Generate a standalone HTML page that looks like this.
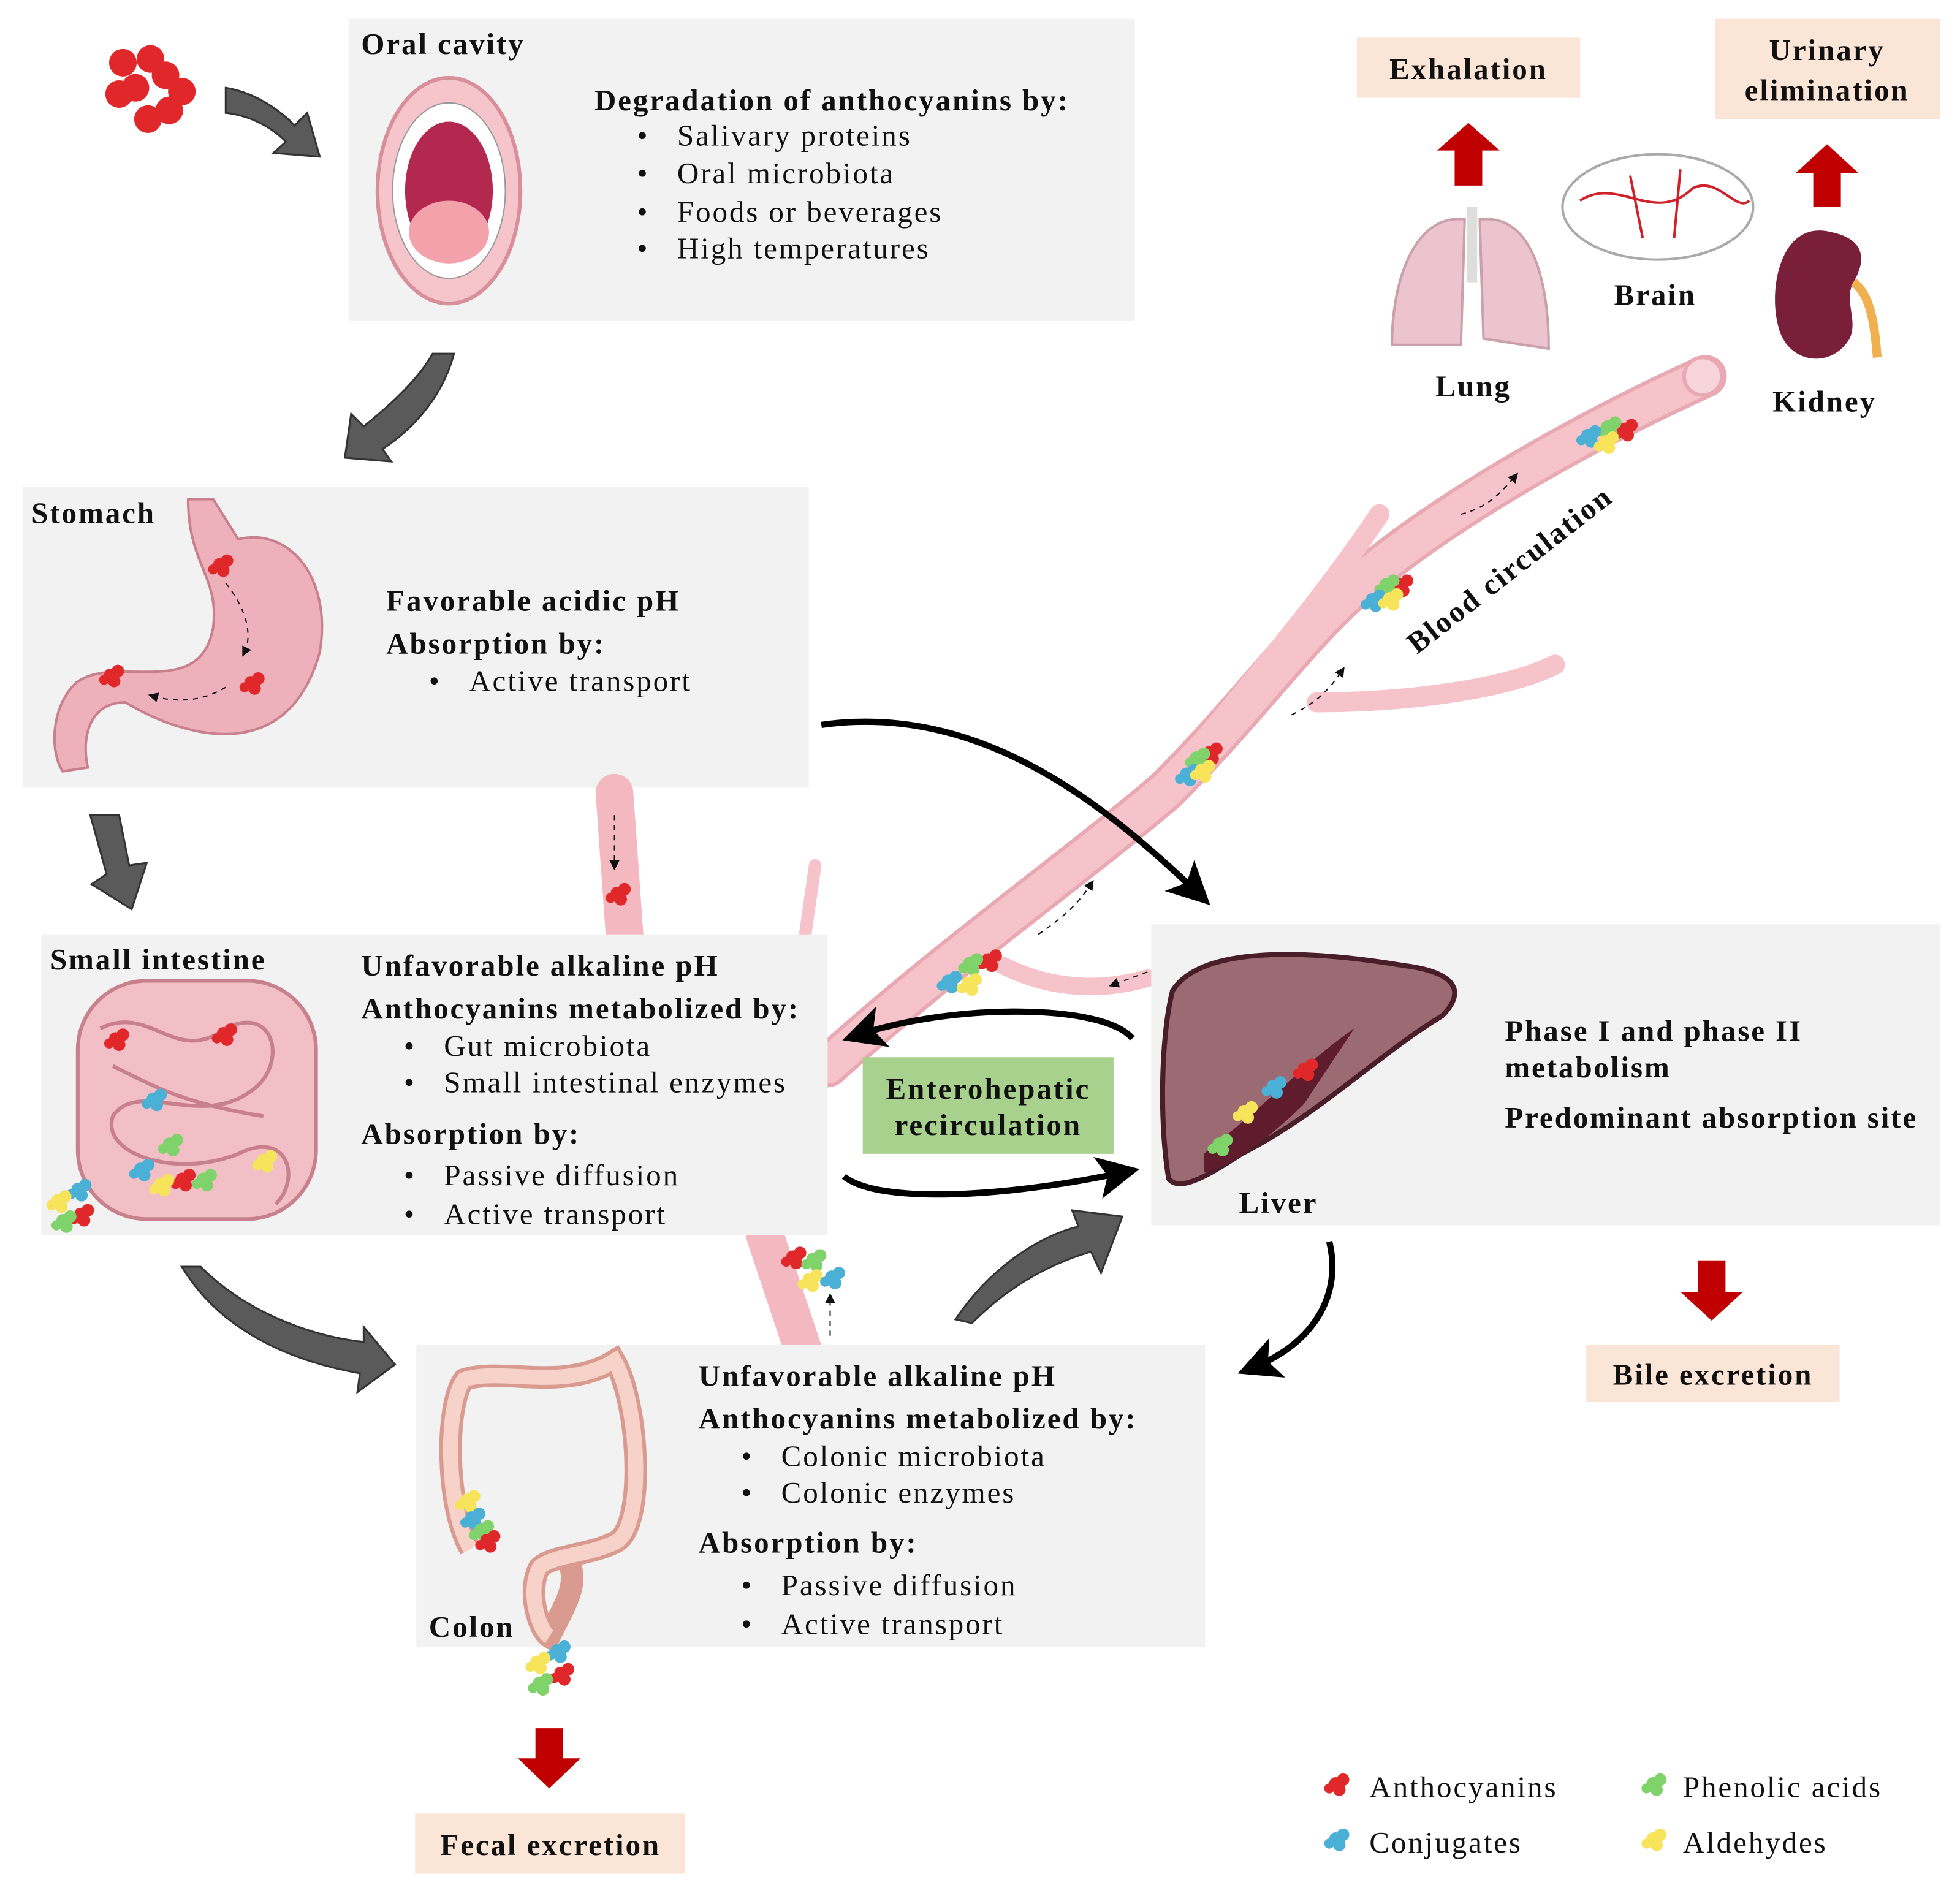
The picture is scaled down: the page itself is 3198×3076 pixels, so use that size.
<!DOCTYPE html>
<html><head><meta charset="utf-8"><style>
html,body{margin:0;padding:0;background:#fff}
svg{display:block}
text{font-family:"Liberation Serif",serif;fill:#111;font-size:24px;letter-spacing:1.4px}
.b{font-weight:bold}
</style></head><body>
<svg width="3198" height="3076" viewBox="0 0 1563 1503" preserveAspectRatio="none" xmlns="http://www.w3.org/2000/svg">
<defs>
<marker id="ah" markerWidth="8" markerHeight="8" refX="4" refY="4" orient="auto" markerUnits="userSpaceOnUse"><path d="M0,0 L8,4 L0,8z" fill="#111"/></marker>
<marker id="big" markerWidth="34" markerHeight="34" refX="20" refY="17" orient="auto" markerUnits="userSpaceOnUse"><path d="M0,0 L34,17 L0,34 L8,17z" fill="#000"/></marker>
<g id="cl"><circle r="5"/><circle cx="6" cy="-3" r="5"/><circle cx="3" cy="5" r="5"/><circle cx="-5" cy="4" r="4"/></g>
</defs>

<rect x="278" y="15" width="627" height="241" fill="#f2f2f2"/>
<rect x="18" y="388" width="627" height="240" fill="#f2f2f2"/>
<g fill="none" stroke-linecap="round">
<path d="M490,632 L498,745" stroke="#f4b8c1" stroke-width="30"/>
<path d="M640,1075 L610,985" stroke="#f4b8c1" stroke-width="30"/>
<path d="M660,850 C760,760 860,690 930,630 C1000,560 1040,500 1090,460 C1150,410 1250,350 1360,300" stroke="#e9a9b3" stroke-width="34"/>
<path d="M660,850 C760,760 860,690 930,630 C1000,560 1040,500 1090,460 C1150,410 1250,350 1360,300" stroke="#f6c3cb" stroke-width="28"/>
<path d="M960,590 C1010,530 1060,470 1100,410" stroke="#f6c3cb" stroke-width="16"/>
<path d="M1050,560 C1120,560 1200,550 1240,530" stroke="#f6c3cb" stroke-width="16"/>
<path d="M800,770 C840,790 880,790 915,780" stroke="#f6c3cb" stroke-width="14"/>
<path d="M650,690 L640,760" stroke="#f6c3cb" stroke-width="10"/>
</g>
<circle cx="1358" cy="300" r="15" fill="#f8d5da" stroke="#e9a9b3" stroke-width="3"/>
<rect x="33" y="745" width="627" height="240" fill="#f2f2f2"/>
<rect x="332" y="1072" width="629" height="241" fill="#f2f2f2"/>
<rect x="918" y="737" width="629" height="240" fill="#f2f2f2"/>

<rect x="1082" y="30" width="178" height="48" fill="#fbe5d6"/>
<rect x="1368" y="15" width="179" height="80" fill="#fbe5d6"/>
<rect x="1265" y="1072" width="202" height="46" fill="#fbe5d6"/>
<rect x="331" y="1446" width="215" height="48" fill="#fbe5d6"/>
<rect x="688" y="843" width="200" height="77" fill="#a9d18e"/>

<text x="288" y="43" class="b">Oral cavity</text>
<text x="474" y="88" class="b">Degradation of anthocyanins by:</text>
<g><text x="508" y="116">•&#160;&#160;&#160;Salivary proteins</text><text x="508" y="146">•&#160;&#160;&#160;Oral microbiota</text><text x="508" y="177">•&#160;&#160;&#160;Foods or beverages</text><text x="508" y="206">•&#160;&#160;&#160;High temperatures</text></g>
<text x="25" y="417" class="b">Stomach</text>
<text x="308" y="487" class="b">Favorable acidic pH</text>
<text x="308" y="521" class="b">Absorption by:</text>
<text x="342" y="551">•&#160;&#160;&#160;Active transport</text>
<text x="40" y="773" class="b">Small intestine</text>
<text x="288" y="778" class="b">Unfavorable alkaline pH</text>
<text x="288" y="812" class="b">Anthocyanins metabolized by:</text>
<g><text x="322" y="842">•&#160;&#160;&#160;Gut microbiota</text><text x="322" y="871">•&#160;&#160;&#160;Small intestinal enzymes</text></g>
<text x="288" y="912" class="b">Absorption by:</text>
<g><text x="322" y="945">•&#160;&#160;&#160;Passive diffusion</text><text x="322" y="976">•&#160;&#160;&#160;Active transport</text></g>
<text x="557" y="1105" class="b">Unfavorable alkaline pH</text>
<text x="557" y="1139" class="b">Anthocyanins metabolized by:</text>
<g><text x="591" y="1169">•&#160;&#160;&#160;Colonic microbiota</text><text x="591" y="1198">•&#160;&#160;&#160;Colonic enzymes</text></g>
<text x="557" y="1238" class="b">Absorption by:</text>
<g><text x="591" y="1272">•&#160;&#160;&#160;Passive diffusion</text><text x="591" y="1303">•&#160;&#160;&#160;Active transport</text></g>
<text x="342" y="1305" class="b">Colon</text>
<text x="1200" y="830" class="b">Phase I and phase II</text>
<text x="1200" y="859" class="b">metabolism</text>
<text x="1200" y="899" class="b">Predominant absorption site</text>
<text x="988" y="967" class="b">Liver</text>
<text x="1171" y="63" class="b" text-anchor="middle">Exhalation</text>
<text x="1457" y="48" class="b" text-anchor="middle">Urinary</text>
<text x="1457" y="80" class="b" text-anchor="middle">elimination</text>
<text x="1366" y="1104" class="b" text-anchor="middle">Bile excretion</text>
<text x="439" y="1479" class="b" text-anchor="middle">Fecal excretion</text>
<text x="788" y="876" class="b" text-anchor="middle">Enterohepatic</text>
<text x="788" y="905" class="b" text-anchor="middle">recirculation</text>
<text x="1175" y="316" class="b" text-anchor="middle">Lung</text>
<text x="1320" y="243" class="b" text-anchor="middle">Brain</text>
<text x="1455" y="328" class="b" text-anchor="middle">Kidney</text>
<text transform="translate(1130,522) rotate(-38)" class="b">Blood circulation</text>

<g fill="#e0282a"><use href="#cl" x="1065" y="1422"/></g>
<g fill="#4ab0d6"><use href="#cl" x="1065" y="1466"/></g>
<g fill="#7fd36a"><use href="#cl" x="1318" y="1422"/></g>
<g fill="#f7e45a"><use href="#cl" x="1318" y="1466"/></g>
<g><text x="1092" y="1433">Anthocyanins</text><text x="1092" y="1477">Conjugates</text><text x="1342" y="1433">Phenolic acids</text><text x="1342" y="1477">Aldehydes</text></g>

<g fill="#e0282a"><circle cx="98" cy="50" r="11"/><circle cx="120" cy="47" r="11"/><circle cx="108" cy="70" r="11"/><circle cx="132" cy="60" r="11"/><circle cx="145" cy="73" r="11"/><circle cx="95" cy="75" r="11"/><circle cx="118" cy="95" r="11"/><circle cx="135" cy="88" r="11"/></g>

<ellipse cx="358" cy="152" rx="57" ry="90" fill="#f6c4cb" stroke="#d98f9a" stroke-width="3"/>
<ellipse cx="358" cy="152" rx="45" ry="70" fill="#fff" stroke="#999"/>
<ellipse cx="358" cy="152" rx="35" ry="55" fill="#b3284f"/>
<ellipse cx="358" cy="185" rx="32" ry="25" fill="#f3a2ab"/>

<path d="M150,398 C150,450 175,460 170,500 C160,560 90,520 60,545 C40,565 40,600 50,615 L70,612 C65,590 70,560 100,560 C150,590 230,610 255,520 C265,460 230,420 190,430 L170,398z" fill="#eeb1bb" stroke="#c8808c" stroke-width="2"/>
<g fill="#e0282a"><use href="#cl" x="175" y="450"/><use href="#cl" x="88" y="538"/><use href="#cl" x="200" y="544"/></g>
<path d="M180,465 C200,490 200,510 195,520" fill="none" stroke="#111" stroke-dasharray="4 4" marker-end="url(#ah)"/>
<path d="M180,548 C160,560 140,560 122,555" fill="none" stroke="#111" stroke-dasharray="4 4" marker-end="url(#ah)"/>

<rect x="62" y="782" width="190" height="190" rx="55" fill="#f3bfc7" stroke="#c8808c" stroke-width="3"/>
<g fill="none" stroke="#c8808c" stroke-width="3"><path d="M80,820 C120,800 140,850 180,820 C220,800 230,850 200,870 C160,900 110,860 90,890 C80,920 140,940 190,920 C230,900 240,940 220,960"/><path d="M90,850 C130,870 150,880 210,890"/></g>
<g fill="#e0282a"><use href="#cl" x="92" y="828"/><use href="#cl" x="178" y="824"/><use href="#cl" x="145" y="940"/><use href="#cl" x="64" y="968"/></g>
<g fill="#4ab0d6"><use href="#cl" x="122" y="876"/><use href="#cl" x="112" y="932"/><use href="#cl" x="62" y="948"/></g>
<g fill="#7fd36a"><use href="#cl" x="135" y="912"/><use href="#cl" x="162" y="940"/><use href="#cl" x="50" y="973"/></g>
<g fill="#f7e45a"><use href="#cl" x="210" y="925"/><use href="#cl" x="128" y="944"/><use href="#cl" x="46" y="957"/></g>

<path d="M375,1235 C355,1200 355,1120 370,1100 C400,1090 450,1110 490,1085 C510,1120 515,1220 490,1230 C470,1240 440,1240 430,1250 C420,1270 430,1300 438,1305 C450,1280 465,1260 450,1240" fill="none" stroke="#d99a8f" stroke-width="18"/>
<path d="M375,1235 C355,1200 355,1120 370,1100 C400,1090 450,1110 490,1085 C510,1120 515,1220 490,1230 C470,1240 440,1240 430,1250 C420,1270 430,1300 438,1305" fill="none" stroke="#f6d2c8" stroke-width="12"/>
<g><use href="#cl" x="372" y="1196" fill="#f7e45a"/><use href="#cl" x="376" y="1210" fill="#4ab0d6"/><use href="#cl" x="383" y="1220" fill="#7fd36a"/><use href="#cl" x="388" y="1228" fill="#e0282a"/></g>
<g><use href="#cl" x="444" y="1316" fill="#4ab0d6"/><use href="#cl" x="428" y="1325" fill="#f7e45a"/><use href="#cl" x="447" y="1334" fill="#e0282a"/><use href="#cl" x="430" y="1342" fill="#7fd36a"/></g>

<path d="M935,790 C960,750 1060,760 1120,770 C1160,775 1170,790 1150,810 C1100,840 1050,890 990,920 C960,940 940,950 932,940 C925,900 925,830 935,790z" fill="#9b6a72" stroke="#4a1e28" stroke-width="4"/>
<path d="M960,920 C1010,880 1050,840 1080,820 L1040,880 C1010,910 980,930 960,935z" fill="#5e1c2c"/>
<use href="#cl" x="1040" y="852" fill="#e0282a"/><use href="#cl" x="1015" y="866" fill="#4ab0d6"/><use href="#cl" x="992" y="886" fill="#f7e45a"/><use href="#cl" x="972" y="912" fill="#7fd36a"/>

<path d="M1168,175 C1130,170 1110,220 1110,275 L1165,275z" fill="#ecc4cf" stroke="#c9a0ab" stroke-width="2"/>
<path d="M1180,175 C1220,170 1235,220 1235,278 L1183,270z" fill="#ecc4cf" stroke="#c9a0ab" stroke-width="2"/>
<rect x="1170" y="165" width="8" height="60" fill="#ddd"/>
<ellipse cx="1322" cy="165" rx="76" ry="42" fill="#fff" stroke="#aaa" stroke-width="2"/>
<path d="M1260,160 C1290,140 1320,180 1350,150 C1370,140 1385,170 1395,160 M1300,140 L1310,190 M1340,135 L1335,190" fill="none" stroke="#d0202a" stroke-width="2"/>
<path d="M1460,185 C1420,175 1410,230 1418,260 C1425,290 1460,295 1475,270 C1482,255 1470,240 1478,225 C1490,205 1485,190 1460,185z" fill="#7a1f3a"/>
<path d="M1478,225 C1492,235 1495,260 1497,285" fill="none" stroke="#f0b050" stroke-width="7"/>

<g><use href="#cl" x="1295" y="342" fill="#e0282a"/><use href="#cl" x="1282" y="340" fill="#7fd36a"/><use href="#cl" x="1266" y="347" fill="#4ab0d6"/><use href="#cl" x="1280" y="352" fill="#f7e45a"/>
<use href="#cl" x="1116" y="466" fill="#e0282a"/><use href="#cl" x="1105" y="466" fill="#7fd36a"/><use href="#cl" x="1094" y="478" fill="#4ab0d6"/><use href="#cl" x="1108" y="477" fill="#f7e45a"/>
<use href="#cl" x="964" y="600" fill="#e0282a"/><use href="#cl" x="954" y="604" fill="#7fd36a"/><use href="#cl" x="946" y="617" fill="#4ab0d6"/><use href="#cl" x="958" y="614" fill="#f7e45a"/>
<use href="#cl" x="788" y="765" fill="#e0282a"/><use href="#cl" x="773" y="768" fill="#7fd36a"/><use href="#cl" x="756" y="782" fill="#4ab0d6"/><use href="#cl" x="772" y="784" fill="#f7e45a"/>
<use href="#cl" x="492" y="712" fill="#e0282a"/>
<use href="#cl" x="632" y="1002" fill="#e0282a"/><use href="#cl" x="648" y="1004" fill="#7fd36a"/><use href="#cl" x="645" y="1020" fill="#f7e45a"/><use href="#cl" x="663" y="1018" fill="#4ab0d6"/></g>
<g fill="none" stroke="#111" stroke-dasharray="4 4"><path d="M490,650 L490,690" marker-end="url(#ah)"/><path d="M662,1065 L662,1035" marker-end="url(#ah)"/><path d="M828,745 C850,730 860,720 870,705" marker-end="url(#ah)"/><path d="M1030,570 C1050,560 1060,550 1070,535" marker-end="url(#ah)"/><path d="M1165,410 C1185,405 1195,395 1208,380" marker-end="url(#ah)"/><path d="M915,775 L888,785" marker-end="url(#ah)"/></g>

<g fill="none" stroke="#000" stroke-width="5">
<path d="M655,578 C780,560 880,640 955,712" marker-end="url(#big)"/>
<path d="M903,828 C880,800 760,800 685,825" marker-end="url(#big)"/>
<path d="M673,938 C700,960 800,955 895,935" marker-end="url(#big)"/>
<path d="M1060,990 C1070,1030 1050,1070 1000,1090" marker-end="url(#big)"/>
</g>

<g fill="#5a5a5a" stroke="#333" stroke-width="1.5">
<path d="M180,70 C210,75 230,95 235,100 L245,90 L255,125 L218,122 L228,113 C215,100 198,92 180,90z"/>
<path d="M345,282 L362,282 C352,320 325,345 305,358 L312,368 L275,365 L280,330 L290,340 C315,320 335,300 345,282z"/>
<path d="M72,650 L95,650 L103,690 L117,688 L105,725 L73,705 L85,697z"/>
<path d="M145,1010 L160,1010 C195,1045 245,1065 290,1070 L290,1058 L315,1088 L285,1110 L287,1095 C230,1085 175,1060 145,1010z"/>
<path d="M762,1052 C790,1010 830,985 860,978 L855,965 L895,970 L878,1015 L870,998 C830,1010 800,1030 775,1055z"/>
</g>

<g fill="#c00000">
<path d="M1160,148 L1182,148 L1182,120 L1196,120 L1171,98 L1146,120 L1160,120z"/>
<path d="M1446,165 L1468,165 L1468,138 L1482,138 L1457,115 L1432,138 L1446,138z"/>
<path d="M1354,1005 L1376,1005 L1376,1030 L1390,1030 L1365,1053 L1340,1030 L1354,1030z"/>
<path d="M427,1378 L449,1378 L449,1402 L463,1402 L438,1426 L413,1402 L427,1402z"/>
</g>
</svg>
</body></html>
